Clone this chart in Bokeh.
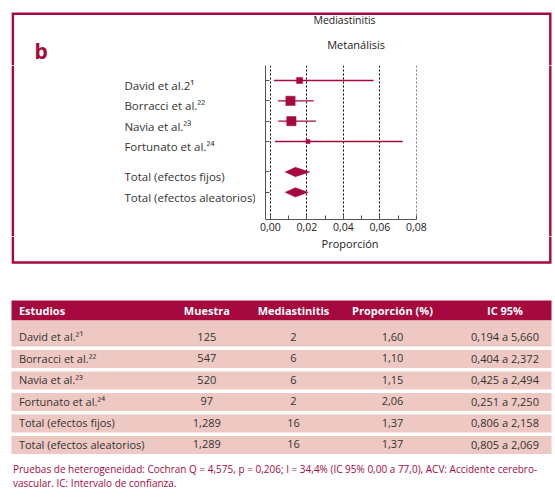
from bokeh.plotting import figure
from bokeh.models import Range1d, FixedTicker, CustomJSTickFormatter
from bokeh.layouts import column, row
from bokeh.embed import file_html
from bokeh.resources import INLINE
from bokeh.core.properties import value

# ---------------- data ----------------
panel_letter = "b"
title_main = "Mediastinitis"
subtitle = "Metanálisis"
x_label = "Proporción"
forest_labels = ["David et al.2¹", "Borracci et al.²²", "Navia et al.²³",
                 "Fortunato et al.²⁴", "Total (efectos fijos)", "Total (efectos aleatorios)"]
table_labels = ["David et al.²¹", "Borracci et al.²²", "Navia et al.²³",
                "Fortunato et al.²⁴", "Total (efectos fijos)", "Total (efectos aleatorios)"]
muestra = [125, 547, 520, 97, 1289, 1289]
mediastinitis = [2, 6, 6, 2, 16, 16]
proporcion_pct = [1.60, 1.10, 1.15, 2.06, 1.37, 1.37]
ic_low_pct = [0.194, 0.404, 0.425, 0.251, 0.806, 0.805]
ic_high_pct = [5.660, 2.372, 2.494, 7.250, 2.158, 2.069]
x_ticks = [0.00, 0.02, 0.04, 0.06, 0.08]
x_minor_ticks = [0.01, 0.03, 0.05, 0.07]
headers = ["Estudios", "Muestra", "Mediastinitis", "Proporción (%)", "IC 95%"]
footnote_lines = [
    "Pruebas de heterogeneidad: Cochran Q = 4,575, p = 0,206; I = 34,4% (IC 95% 0,00 a 77,0), ACV: Accidente cerebro-",
    "vascular. IC: Intervalo de confianza.",
]

# ---------------- style ----------------
CRIMSON = "#A6093D"
PINK = "#EEC8C2"
TEXT = "#333333"
DARK = "#222222"
FONT = "Open Sans"
square_px = [6, 9.3, 9.3, 4]
BW = 2.4                        # border width
B_L, B_R, B_T, B_B = 12.4, 549.8, 13.2, 262.0

W = 553
n_studies = 4
rows = [0, 1, 2, 3, 4.5, 5.5]
est = [v / 100 for v in proporcion_pct]
lo = [v / 100 for v in ic_low_pct]
hi = [v / 100 for v in ic_high_pct]

Y_TOP, Y_BOT = -0.737, 6.836     # forest y-range (rows)
FRAME_H = 154
PPU = FRAME_H / (Y_BOT - Y_TOP)


def blank(width, height, xr, yr):
    f = figure(width=width, height=height, output_backend="svg", toolbar_location=None,
               x_range=xr, y_range=yr, x_axis_location=None, y_axis_location=None,
               min_border=0, frame_align=False)
    f.grid.visible = False
    f.outline_line_color = None
    return f


# ---- A: header strip (y 0..65) ----
A = blank(W, 65, Range1d(0, W), Range1d(65, 0))
A.line(x=[B_L, B_L, B_R, B_R], y=[65, B_T, B_T, 65], line_color=CRIMSON, line_width=BW,
       line_join="miter")
A.text(x=[34], y=[50], text=[panel_letter], text_font=value(FONT), text_font_size="21px",
       text_font_style="bold", text_color=CRIMSON, text_align="left",
       text_baseline="alphabetic")
A.text(x=[344], y=[19.3], text=[title_main], text_font=value(FONT), text_font_size="10.5px",
       text_color=DARK, text_align="center", text_baseline="middle")
A.text(x=[355.6], y=[44], text=[subtitle], text_font=value(FONT), text_font_size="11px",
       text_color=DARK, text_align="center", text_baseline="middle")

# ---- B1: study labels (x 0..255, y 65..236) ----
MID_H = 171
b1_bottom = Y_TOP + MID_H / PPU
B1 = blank(255, MID_H, Range1d(0, 255), Range1d(b1_bottom, Y_TOP))
B1.line(x=[B_L, B_L], y=[Y_TOP, b1_bottom], line_color=CRIMSON, line_width=BW)
B1.text(x=[123.9] * len(rows), y=[r + 5 / PPU for r in rows], text=forest_labels,
        text_font=value(FONT), text_font_size="11.5px", text_color=TEXT,
        text_align="left", text_baseline="middle")

# ---- B2: forest plot (x 255..430) ----
p = figure(width=175, height=MID_H, output_backend="svg", toolbar_location=None,
           x_range=Range1d(-0.0027, 0.0801), y_range=Range1d(Y_BOT, Y_TOP),
           min_border_left=10, min_border_right=14, min_border_top=0,
           min_border_bottom=MID_H - FRAME_H, frame_align=False)
p.outline_line_color = None
p.ygrid.visible = False
p.xgrid.ticker = FixedTicker(ticks=x_ticks)
p.xgrid.grid_line_color = "black"
p.xgrid.grid_line_dash = "2 2"
p.xgrid.grid_line_width = 1

xa = p.xaxis[0]
xa.ticker = FixedTicker(ticks=x_ticks, minor_ticks=x_minor_ticks)
xa.formatter = CustomJSTickFormatter(code="return tick.toFixed(2).replace('.', ',');")
xa.axis_line_color = "#555555"
xa.major_tick_line_color = "#555555"
xa.minor_tick_line_color = "#555555"
xa.major_tick_in = 4
xa.major_tick_out = 0
xa.minor_tick_in = 4
xa.minor_tick_out = 0
xa.major_label_text_font = FONT
xa.major_label_text_font_size = "10.5px"
xa.major_label_text_color = DARK
xa.major_label_standoff = 3

ya = p.yaxis[0]
ya.ticker = FixedTicker(ticks=rows)
ya.formatter = CustomJSTickFormatter(code="return '';")
ya.axis_line_color = "#555555"
ya.major_tick_line_color = "#555555"
ya.major_tick_in = 4
ya.major_tick_out = 0
ya.minor_tick_line_color = None
ya.major_label_standoff = 0

p.segment(x0=lo[:n_studies], x1=hi[:n_studies], y0=rows[:n_studies], y1=rows[:n_studies],
          line_color=CRIMSON, line_width=1.3)
p.scatter(x=est[:n_studies], y=rows[:n_studies], marker="square", size=square_px,
          fill_color=CRIMSON, line_color=CRIMSON, line_width=0.5)

half_h = 4.65 / PPU
dxs, dys = [], []
for e, l, h, r in zip(est[n_studies:], lo[n_studies:], hi[n_studies:], rows[n_studies:]):
    dxs.append([l, e, h, e])
    dys.append([r, r - half_h, r, r + half_h])
p.patches(xs=dxs, ys=dys, fill_color=CRIMSON, line_color=CRIMSON, line_width=0.5)

# ---- B3: right border piece (x 430..553) ----
B3 = blank(W - 430, MID_H, Range1d(430, W), Range1d(236, 65))
B3.line(x=[B_R, B_R], y=[65, 236], line_color=CRIMSON, line_width=BW)

# ---- C: x-label + bottom border (y 236..290) ----
C = blank(W, 54, Range1d(0, W), Range1d(290, 236))
C.line(x=[B_L, B_L, B_R, B_R], y=[236, B_B, B_B, 236], line_color=CRIMSON, line_width=BW,
       line_join="miter")
C.text(x=[349.6], y=[243.3], text=[x_label], text_font=value(FONT), text_font_size="11px",
       text_color=DARK, text_align="center", text_baseline="middle")

# ---- D: table (y 290..496) ----
D = blank(W, 206, Range1d(0, W), Range1d(496, 290))
tab_left, tab_right = 11, 551
head_top, head_bottom = 300, 320
n_rows = len(table_labels)
row_bottoms = [346 + 21.5 * i for i in range(n_rows)]
row_tops = [head_bottom] + [b - 18 for b in row_bottoms[1:]]
row_centers = [b - 9.8 for b in row_bottoms]

D.quad(left=tab_left, right=tab_right, top=head_top, bottom=head_bottom,
       fill_color=CRIMSON, line_color=None)
D.quad(left=[tab_left] * n_rows, right=[tab_right] * n_rows, top=row_tops,
       bottom=row_bottoms, fill_color=PINK, line_color=None)

col_x = [18.4, 206.3, 293, 392, 504.5]
col_align = ["left", "center", "center", "center", "center"]


def comma(v, d):
    return f"{v:.{d}f}".replace(".", ",")


columns_text = [
    table_labels,
    [f"{n:,}" for n in muestra],
    [str(n) for n in mediastinitis],
    [comma(v, 2) for v in proporcion_pct],
    [f"{comma(a, 3)} a {comma(b, 3)}" for a, b in zip(ic_low_pct, ic_high_pct)],
]

for cx, al, htxt, col in zip(col_x, col_align, headers, columns_text):
    D.text(x=[cx], y=[(head_top + head_bottom) / 2], text=[htxt], text_font=value(FONT),
           text_font_size="11px", text_font_style="bold", text_color="white",
           text_align=al, text_baseline="middle")
    D.text(x=[cx] * n_rows, y=row_centers, text=col, text_font=value(FONT),
           text_font_size="11px", text_color=TEXT, text_align=al,
           text_baseline="middle")

D.text(x=[12.4] * len(footnote_lines), y=[468.3, 482.3], text=footnote_lines,
       text_font=value(FONT), text_font_size="10px", text_color=CRIMSON,
       text_align="left", text_baseline="middle")

layout = column(A, row(B1, p, B3, spacing=0), C, D, spacing=0)
open("out.html", "w").write(file_html(layout, INLINE))
